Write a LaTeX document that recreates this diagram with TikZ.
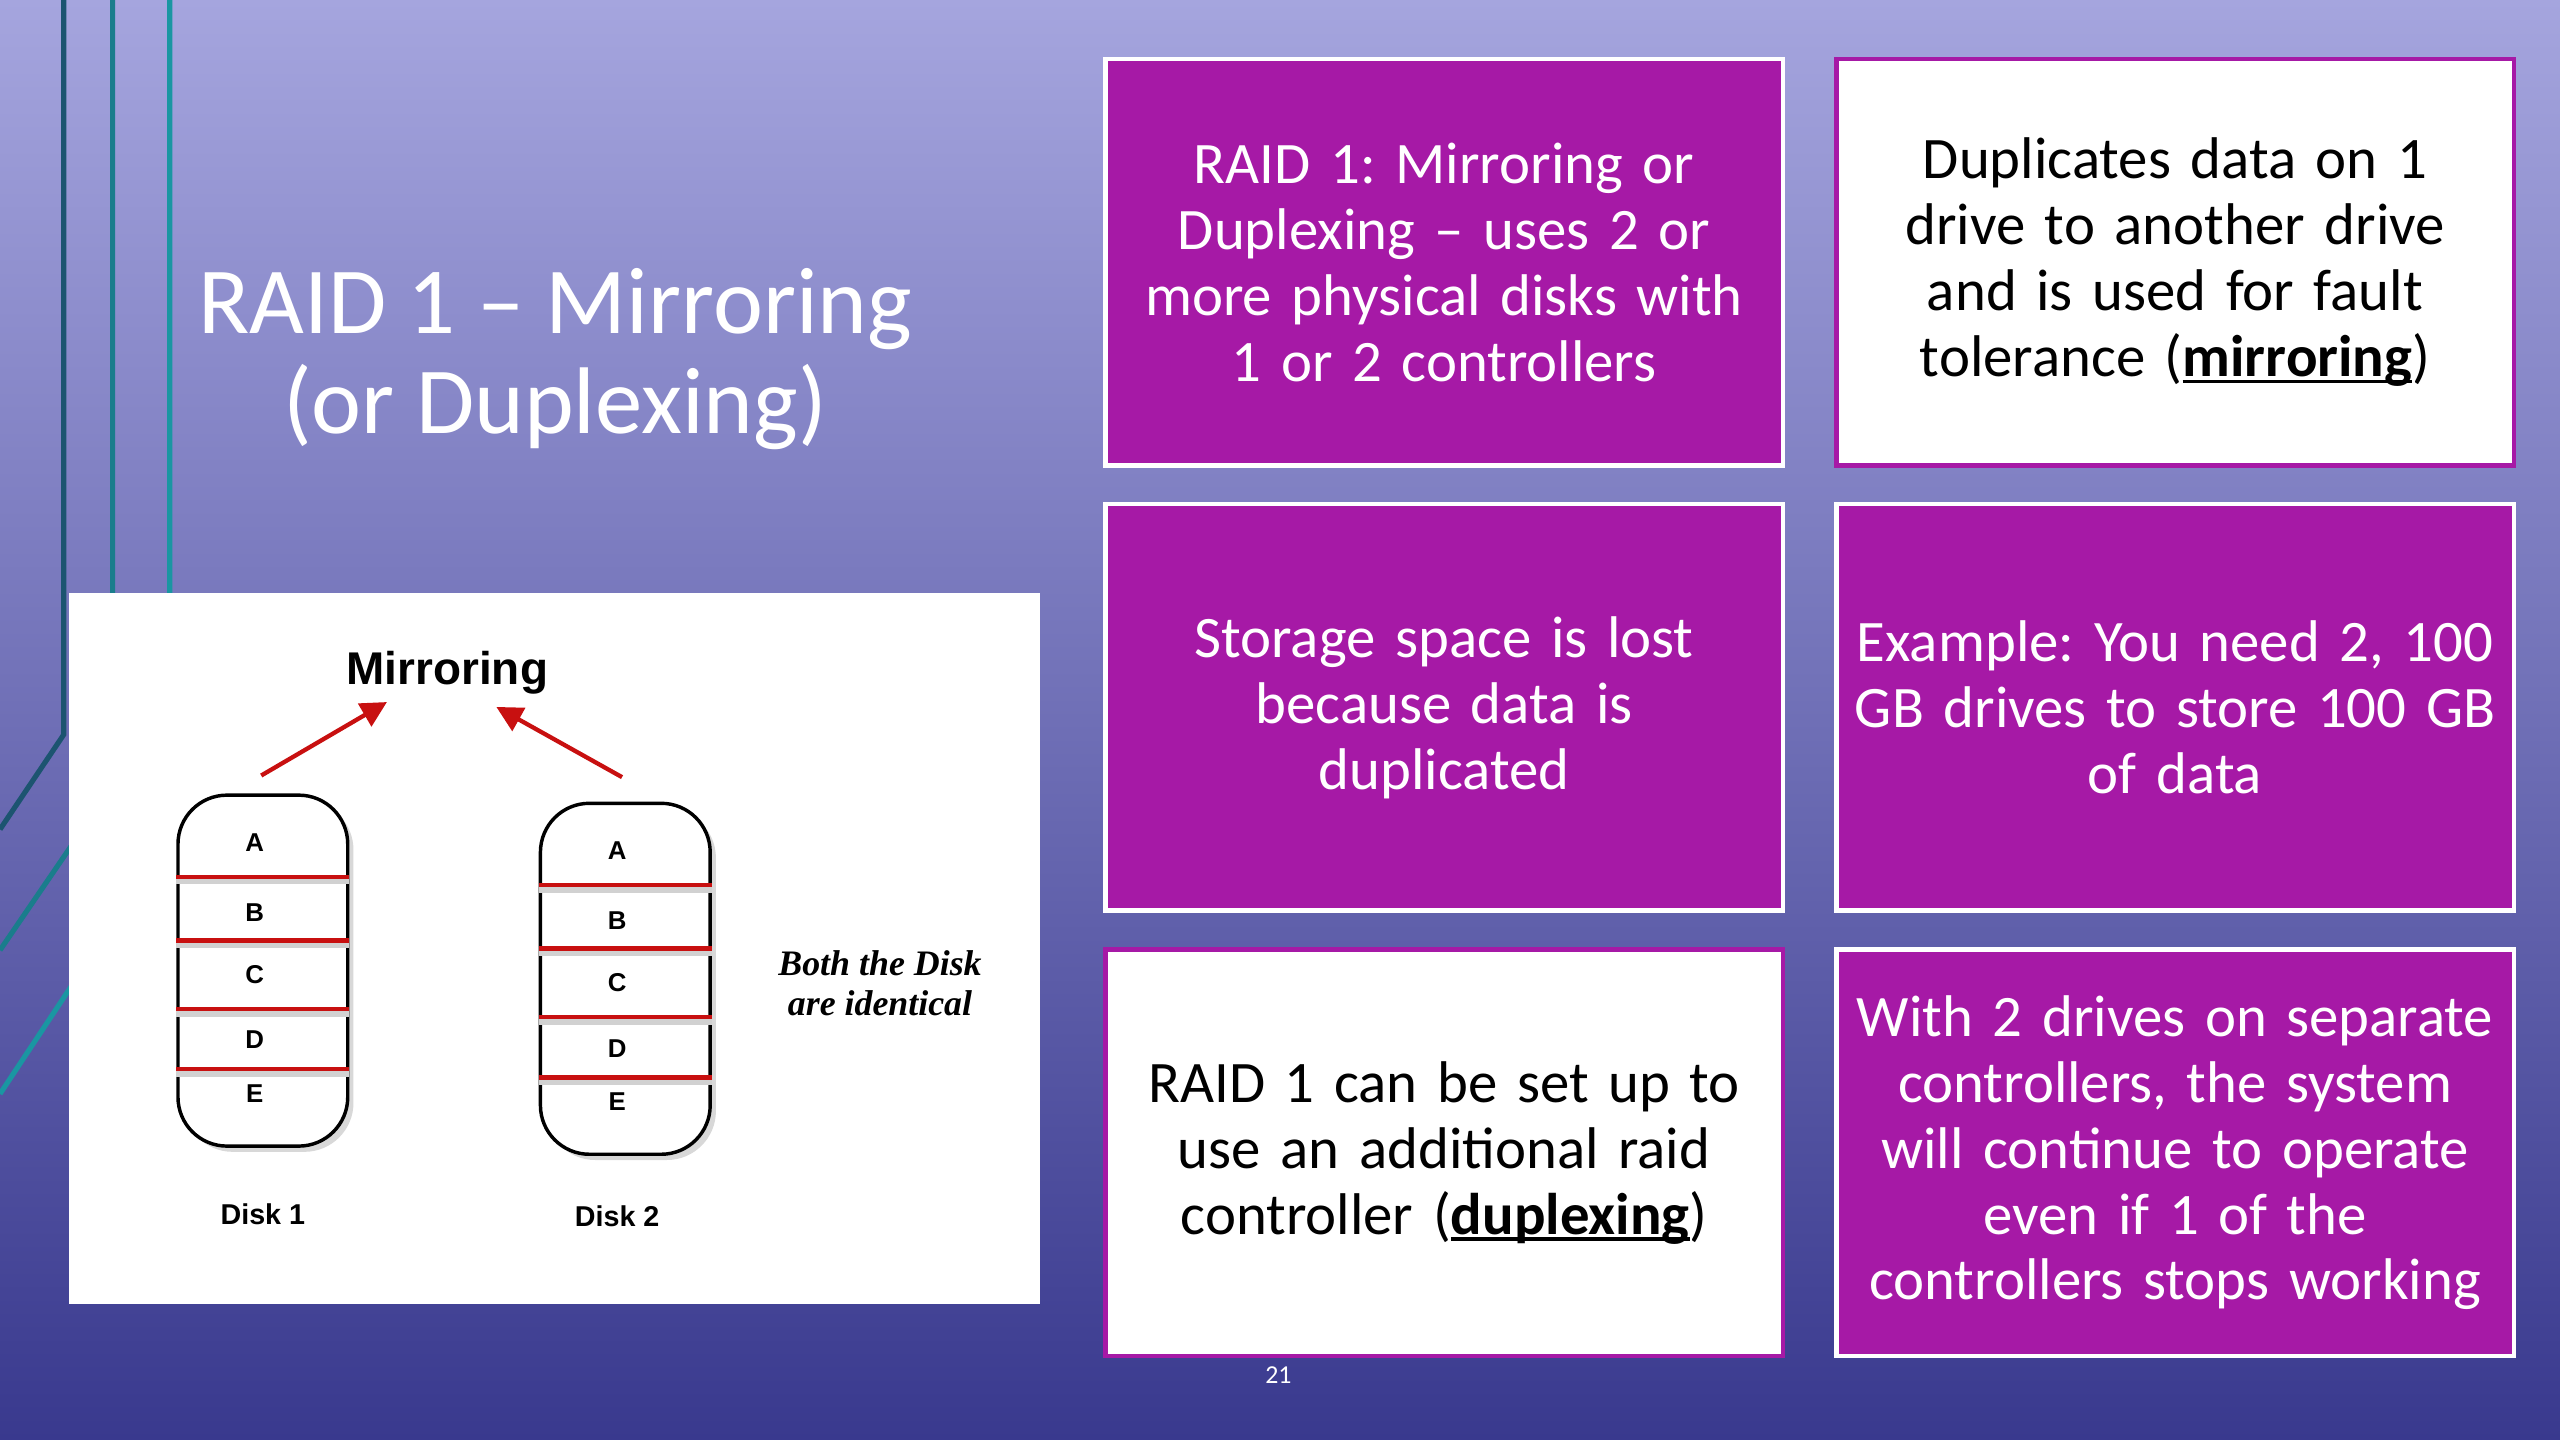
\documentclass[tikz,border=0pt]{standalone}
\usepackage{fontspec}
\setmainfont{Carlito}
\newfontfamily\arialfont{Liberation Sans}
\newfontfamily\timesfont{Liberation Serif}
\usepackage{tikz}
\usetikzlibrary{
        arrows.meta,
        calc,
        positioning,
        shadows
    }
\frenchspacing
\newcommand\keyword[1]{\setbox0\hbox{\textbf{#1}}\rlap{\rule[-2.4pt]{\wd0}{1.3pt}}\box0}
\definecolor{bgtop}{RGB}{165,165,222}
\definecolor{bgbot}{RGB}{57,57,142}
\definecolor{plum}{RGB}{166,25,166}
\definecolor{raidred}{RGB}{200,16,16}
\definecolor{tealA}{RGB}{28,84,112}
\definecolor{tealB}{RGB}{26,125,140}
\definecolor{tealC}{RGB}{26,150,162}
\tikzset{
    card/.style={rectangle,minimum width=8.3cm,minimum height=4.98cm,text width=8.2cm,
        align=center,inner sep=0pt,line width=1.6pt,font=\fontsize{20.5}{23}\selectfont},
    plumcard/.style={card,fill=plum,draw=white,text=white},
    whitecard/.style={card,fill=white,draw=plum,text=black},
    disk/.style={draw,fill=white,line width=1.2pt,rounded corners=0.6cm,
        minimum width=2.08cm,minimum height=4.3cm,
        drop shadow={shadow xshift=2pt,shadow yshift=-2pt,fill=black!30}},
    sep/.style={draw=raidred,line width=1.5pt},
    sepshade/.style={draw=black!18,line width=2pt},
    letter/.style={font=\arialfont\bfseries\fontsize{9}{10}\selectfont},
    redarrow/.style={draw=raidred,line width=1.5pt,-{Triangle[length=9pt,width=9pt]}},
    sideline/.style={line width=1.8pt}
}

\begin{document}
\begin{tikzpicture}[x=0.02cm,y=-0.02cm,node distance=0.42cm and 0.6cm]
    \useasboundingbox (0,0) rectangle (1568,882);
    \shade[top color=bgtop,bottom color=bgbot] (0,0) rectangle (1568,882);

    % side lines
    \coordinate (l1a) at (39,0);
    \coordinate (l1b) at (39,450);
    \coordinate (l1c) at (0,508);
    \coordinate (l2a) at (69,0);
    \coordinate (l2b) at (69,481);
    \coordinate (l2c) at (0,582);
    \coordinate (l3a) at (104,0);
    \coordinate (l3b) at (104,513);
    \coordinate (l3c) at (0,670);
    \draw[sideline,tealA] (l1a) -- (l1b) -- (l1c);
    \draw[sideline,tealB] (l2a) -- (l2b) -- (l2c);
    \draw[sideline,tealC] (l3a) -- (l3b) -- (l3c);

    \node[text=white,align=center,font=\fontsize{33}{34.6}\selectfont] (title) at (340,220)
        {RAID 1 – Mirroring\\(or Duplexing)};

    % picture panel
    \node[fill=white,minimum width=11.9cm,minimum height=8.72cm,inner sep=0pt] (panel) at (339.5,581) {};
    \node[font=\arialfont\bfseries\fontsize{16}{18}\selectfont] (mirror) at (274,412) {Mirroring};
    \node[disk] (disk1) at (161,594.5) {};
    \node[disk] (disk2) at (383,599.5) {};
    \foreach \d in {disk1,disk2}{
        \foreach \dy in {51,90,132,169}{
            \draw[sepshade] ($(\d.north west)+(0,\dy+3)$) -- ($(\d.north east)+(0,\dy+3)$);
            \draw[sep] ($(\d.north west)+(0,\dy)$) -- ($(\d.north east)+(0,\dy)$);
        }
        \foreach \l/\dy in {A/30,B/73,C/111,D/151,E/184}
            \node[letter] (\d\l) at ($(\d.north)+(-5,\dy)$) {\l};
    }
    \node[font=\arialfont\bfseries\fontsize{10}{12}\selectfont] (name1) at (161,744) {Disk 1};
    \node[font=\arialfont\bfseries\fontsize{10}{12}\selectfont] (name2) at (378,745) {Disk 2};
    \node[align=center,font=\timesfont\bfseries\itshape\fontsize{12.5}{14}\selectfont] (same) at (539,602)
        {Both the Disk\\are identical};
    \coordinate (a1s) at (160,475);
    \coordinate (a1e) at (237,430);
    \coordinate (a2s) at (381,476);
    \coordinate (a2e) at (304,433);
    \draw[redarrow] (a1s) -- (a1e);
    \draw[redarrow] (a2s) -- (a2e);

    % cards
    \node[plumcard] (c1) at (884.5,160.5)
        {RAID 1: Mirroring or\\Duplexing – uses 2 or\\more physical disks with\\1 or 2 controllers};
    \node[whitecard] (c2) [right=of c1]
        {Duplicates data on 1\\drive to another drive\\and is used for fault\\tolerance (\keyword{mirroring})};
    \node[plumcard] (c3) [below=of c1]
        {Storage space is lost\\because data is\\duplicated};
    \node[plumcard] (c4) [right=of c3]
        {Example: You need 2, 100\\GB drives to store 100 GB\\of data};
    \node[whitecard] (c5) [below=of c3]
        {RAID 1 can be set up to\\use an additional raid\\controller (\keyword{duplexing})};
    \node[plumcard] (c6) [right=of c5]
        {With 2 drives on separate\\controllers, the system\\will continue to operate\\even if 1 of the\\controllers stops working};

    \node[text=white,font=\fontsize{9}{10}\selectfont] (pagenum) at (783,842) {21};
\end{tikzpicture}
\end{document}
